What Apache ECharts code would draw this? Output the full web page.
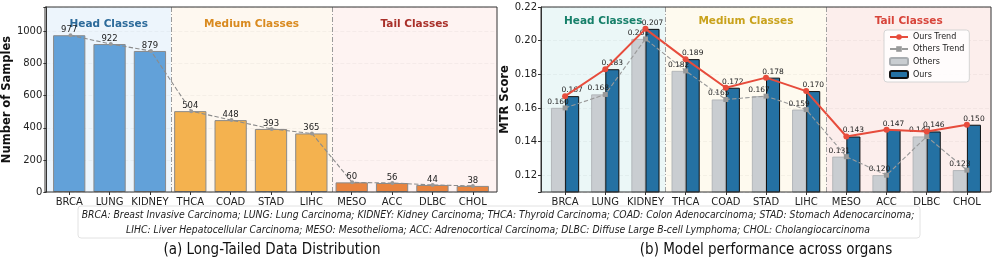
<!DOCTYPE html>
<html>
<head>
<meta charset="utf-8">
<script src="https://cdn.jsdelivr.net/npm/echarts@6.0.0/dist/echarts.min.js"></script>
<style>
  html, body { margin: 0; padding: 0; background: #fff; }
  #main { width: 996px; height: 262px; }
</style>
</head>
<body>
<div id="main"></div>
<script>
// categories (organs)
var organs = ['BRCA', 'LUNG', 'KIDNEY', 'THCA', 'COAD', 'STAD', 'LIHC', 'MESO', 'ACC', 'DLBC', 'CHOL'];
// (a) number of samples per organ
var sampleCounts = [977, 922, 879, 504, 448, 393, 365, 60, 56, 44, 38];
// (b) MTR score
var othersScore = [0.160, 0.168, 0.201, 0.182, 0.165, 0.167, 0.159, 0.131, 0.120, 0.143, 0.123];
var oursScore = [0.167, 0.183, 0.207, 0.189, 0.172, 0.178, 0.170, 0.143, 0.147, 0.146, 0.150];
// y tick labels
var ticksA = ['0', '200', '400', '600', '800', '1000'];
var ticksB = ['0.12', '0.14', '0.16', '0.18', '0.20', '0.22'];
// class groups
var groupNames = ['Head Classes', 'Medium Classes', 'Tail Classes'];
var groupOf = [0, 0, 0, 1, 1, 1, 1, 2, 2, 2, 2];
var groupEdges = [-0.6, 2.5, 6.5, 10.6];

var FONT = 'DejaVu Sans';
var COND = '"DejaVu Sans Condensed", "DejaVu Sans"';

// layout: plot frames (pixels)
var topPx = 7, bottomPx = 70;
var leftA = 45, widthA = 452;
var leftB = 541, widthB = 450;
// bar grid sits inside the frame, xlim is -0.6..10.6
function inner(l, w) { return { left: l + w * 0.1 / 11.2, width: w * 11 / 11.2 }; }
var innerA = inner(leftA, widthA);
var innerB = inner(leftB, widthB);

var barColorsA = ['#62a1d9', '#f4b24f', '#e9843f'];
var bgA = ['rgba(222,236,250,0.55)', 'rgba(253,240,222,0.45)', 'rgba(252,228,226,0.45)'];
var titleColA = ['#2c6a9a', '#d98a1f', '#a9302a'];
var bgB = ['rgba(215,240,240,0.5)', 'rgba(252,245,220,0.45)', 'rgba(250,222,218,0.5)'];
var titleColB = ['#17806a', '#c9a21c', '#d8453b'];

function areas(bg, col) {
  var out = [];
  for (var g = 0; g < 3; g++) {
    out.push([
      { xAxis: groupEdges[g], name: groupNames[g], itemStyle: { color: bg[g] },
        label: { color: col[g] } },
      { xAxis: groupEdges[g + 1] }
    ]);
  }
  return out;
}

function pairs(arr) {
  return arr.map(function (v, i) { return [i, v]; });
}

// show only the listed tick labels
function tickFormatter(list, digits) {
  return function (v) {
    var s = digits ? v.toFixed(digits) : String(Math.round(v));
    return (list.indexOf(s) >= 0 && Math.abs(v - parseFloat(s)) < 1e-6) ? s : '';
  };
}

var myChart = echarts.init(document.getElementById('main'));

var frameAxisX = function (gi) {
  return { gridIndex: gi, type: 'value', min: -0.6, max: 10.6, show: false,
    axisLine: { onZero: false }, splitLine: { show: false } };
};
var catAxisX = function (gi) {
  return {
    gridIndex: gi, type: 'category', data: organs,
    axisLine: { show: false, onZero: false },
    axisTick: { show: true, alignWithLabel: true, interval: 0, length: 3, lineStyle: { color: '#333' } },
    axisLabel: { interval: 0, color: '#222', fontSize: 10, fontFamily: FONT, margin: 5 }
  };
};
var frameAxisY = function (gi, min, max, name, gap, fmt) {
  return {
    gridIndex: gi, type: 'value', min: min, max: max, splitNumber: 5,
    name: name, nameLocation: 'middle', nameGap: gap,
    nameTextStyle: { fontWeight: 'bold', fontSize: 11.5, color: '#111', fontFamily: FONT },
    axisLine: { show: true, onZero: false, lineStyle: { color: '#333' } },
    axisTick: { show: true, length: 3, lineStyle: { color: '#333' } },
    axisLabel: { color: '#222', fontSize: 10, margin: 4, fontFamily: FONT, formatter: fmt },
    splitLine: { show: true, lineStyle: { color: 'rgba(0,0,0,0.07)', type: 'dashed' } }
  };
};

var option = {
  animation: false,
  textStyle: { fontFamily: FONT },
  grid: [
    { left: leftA, width: widthA, top: topPx, bottom: bottomPx },
    { left: innerA.left, width: innerA.width, top: topPx, bottom: bottomPx },
    { left: leftB, width: widthB, top: topPx, bottom: bottomPx },
    { left: innerB.left, width: innerB.width, top: topPx, bottom: bottomPx }
  ],
  xAxis: [frameAxisX(0), catAxisX(1), frameAxisX(2), catAxisX(3)],
  yAxis: [
    frameAxisY(0, 0, 1153, 'Number of Samples', 24, tickFormatter(ticksA, 0)),
    { gridIndex: 1, type: 'value', min: 0, max: 1153, show: false },
    frameAxisY(2, 0.11, 0.22, 'MTR Score', 26, tickFormatter(ticksB, 2)),
    { gridIndex: 3, type: 'value', min: 0.11, max: 0.22, show: false }
  ],
  legend: {
    orient: 'vertical', left: 884, top: 30,
    padding: [3, 5, 3, 5], itemGap: 4, itemWidth: 18, itemHeight: 7,
    backgroundColor: 'rgba(255,255,255,0.85)', borderColor: '#d5d5d5', borderWidth: 1, borderRadius: 3,
    textStyle: { fontSize: 8, color: '#222', fontFamily: FONT },
    data: ['Ours Trend', 'Others Trend', 'Others', 'Ours']
  },
  series: [
    // (a) backgrounds + dividers
    {
      type: 'line', xAxisIndex: 0, yAxisIndex: 0, data: [], silent: true,
      markArea: {
        silent: true, z: 0,
        label: { show: true, position: 'insideTop', offset: [0, 7], fontWeight: 'bold', fontSize: 10.5, fontFamily: FONT },
        data: areas(bgA, titleColA)
      },
      markLine: {
        silent: true, symbol: 'none', label: { show: false },
        lineStyle: { color: '#9a9a9a', type: [5, 2, 1, 2], width: 1 },
        data: [{ xAxis: 2.5 }, { xAxis: 6.5 }]
      }
    },
    // (a) bars
    {
      type: 'bar', xAxisIndex: 1, yAxisIndex: 1, barWidth: '80%', z: 2,
      data: sampleCounts.map(function (v, i) {
        return { value: v, itemStyle: { color: barColorsA[groupOf[i]] } };
      }),
      itemStyle: { borderColor: '#8a8a8a', borderWidth: 1 },
      label: { show: true, position: 'top', distance: 1, fontSize: 8.5, color: '#222', fontFamily: FONT }
    },
    // (a) trend
    {
      type: 'line', xAxisIndex: 0, yAxisIndex: 0, z: 3, data: pairs(sampleCounts),
      symbol: 'circle', symbolSize: 4,
      lineStyle: { color: '#8c8c8c', width: 1.1, type: 'dashed' },
      itemStyle: { color: '#999' }
    },
    // (b) backgrounds + dividers
    {
      type: 'line', xAxisIndex: 2, yAxisIndex: 2, data: [], silent: true,
      markArea: {
        silent: true, z: 0,
        label: { show: true, position: 'insideTop', offset: [0, 4], fontWeight: 'bold', fontSize: 10.5, fontFamily: FONT },
        data: areas(bgB, titleColB)
      },
      markLine: {
        silent: true, symbol: 'none', label: { show: false },
        lineStyle: { color: '#a0a0a0', type: [5, 2, 1, 2], width: 1 },
        data: [{ xAxis: 2.5 }, { xAxis: 6.5 }]
      }
    },
    // (b) bars
    {
      name: 'Others', type: 'bar', xAxisIndex: 3, yAxisIndex: 3, barWidth: '35%', barGap: '0%', z: 2,
      data: othersScore,
      itemStyle: { color: '#c9cdd1', borderColor: '#a9adb1', borderWidth: 0.8 },
      label: { show: true, position: 'top', distance: 2, fontSize: 7.5, color: '#222', fontFamily: FONT,
        formatter: function (p) { return p.value.toFixed(3); } }
    },
    {
      name: 'Ours', type: 'bar', xAxisIndex: 3, yAxisIndex: 3, barWidth: '35%', barGap: '0%', z: 2,
      data: oursScore,
      itemStyle: { color: '#2471a3', borderColor: '#111', borderWidth: 1 },
      label: { show: true, position: 'top', distance: 2, fontSize: 7.5, color: '#222', fontFamily: FONT,
        formatter: function (p) { return p.value.toFixed(3); } }
    },
    // (b) trends
    {
      name: 'Others Trend', type: 'line', xAxisIndex: 2, yAxisIndex: 2, z: 3,
      data: pairs(othersScore),
      symbol: 'rect', symbolSize: 5,
      lineStyle: { color: '#9a9a9a', width: 1.1, type: 'dashed' },
      itemStyle: { color: '#999' }
    },
    {
      name: 'Ours Trend', type: 'line', xAxisIndex: 2, yAxisIndex: 2, z: 4,
      data: pairs(oursScore),
      symbol: 'circle', symbolSize: 6,
      lineStyle: { color: '#e74c3c', width: 2 },
      itemStyle: { color: '#e74c3c' }
    }
  ],
  graphic: [
    { type: 'rect', z: 100, silent: true, shape: { x: leftA, y: topPx, width: widthA, height: 262 - bottomPx - topPx },
      style: { fill: null, stroke: '#333', lineWidth: 1 } },
    { type: 'rect', z: 100, silent: true, shape: { x: leftB, y: topPx, width: widthB, height: 262 - bottomPx - topPx },
      style: { fill: null, stroke: '#333', lineWidth: 1 } },
    // footnote box
    { type: 'rect', z: 50, silent: true, shape: { x: 78, y: 206, width: 842, height: 32, r: 3 },
      style: { fill: '#fff', stroke: '#e2e2e2', lineWidth: 1 } },
    { type: 'text', z: 51, silent: true, style: {
        x: 498, y: 215, align: 'center', verticalAlign: 'middle',
        text: 'BRCA: Breast Invasive Carcinoma; LUNG: Lung Carcinoma; KIDNEY: Kidney Carcinoma; THCA: Thyroid Carcinoma; COAD: Colon Adenocarcinoma; STAD: Stomach Adenocarcinoma;',
        font: 'italic 10.3px ' + COND, fill: '#222' } },
    { type: 'text', z: 51, silent: true, style: {
        x: 498, y: 230, align: 'center', verticalAlign: 'middle',
        text: 'LIHC: Liver Hepatocellular Carcinoma; MESO: Mesothelioma; ACC: Adrenocortical Carcinoma; DLBC: Diffuse Large B-cell Lymphoma; CHOL: Cholangiocarcinoma',
        font: 'italic 10.3px ' + COND, fill: '#222' } },
    // captions
    { type: 'text', silent: true, style: {
        x: 272, y: 250, align: 'center', verticalAlign: 'middle',
        text: '(a) Long-Tailed Data Distribution', font: '15px ' + COND, fill: '#111' } },
    { type: 'text', silent: true, style: {
        x: 766, y: 250, align: 'center', verticalAlign: 'middle',
        text: '(b) Model performance across organs', font: '15px ' + COND, fill: '#111' } }
  ]
};

myChart.setOption(option);
</script>
</body>
</html>
